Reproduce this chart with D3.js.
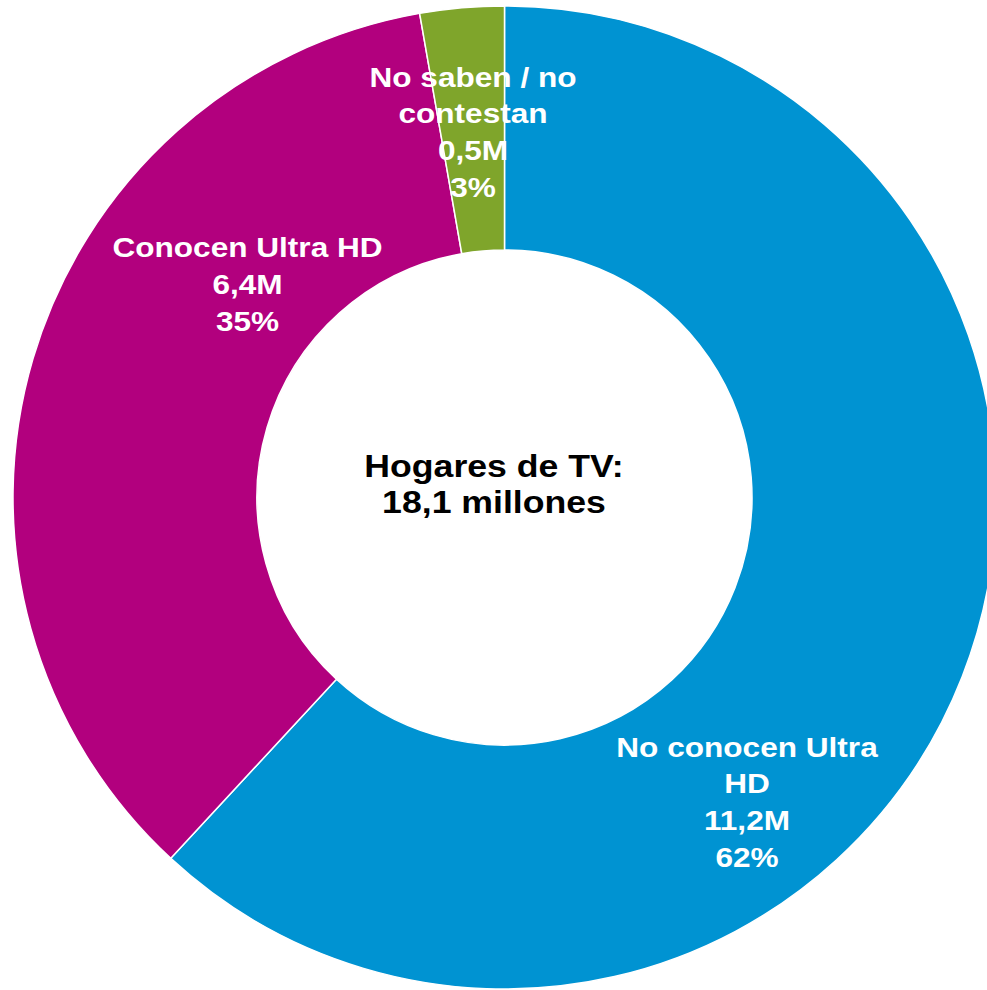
<!DOCTYPE html>
<html>
<head>
<meta charset="utf-8">
<script src="https://cdn.jsdelivr.net/npm/d3@7"></script>
<style>
  html, body { margin: 0; padding: 0; background: #ffffff; overflow: hidden; }
  svg { display: block; }
  text { font-family: "Liberation Sans", Arial, sans-serif; font-weight: bold; }
</style>
</head>
<body>
<svg id="chart" width="987" height="990"></svg>
<script>
// ---- data ----
const categories = ["No conocen Ultra HD", "Conocen Ultra HD", "No saben / no contestan"];
const values = [11.2, 6.4, 0.5];            // millions
const percents = ["62%", "35%", "3%"];
const valueLabels = ["11,2M", "6,4M", "0,5M"];
const labelLines = [["No conocen Ultra", "HD"], ["Conocen Ultra HD"], ["No saben / no", "contestan"]];
const colors = ["#0093d2", "#b2007e", "#7fa52b"];
const centerLines = ["Hogares de TV:", "18,1 millones"];

// ---- layout ----
const W = 987, H = 990;
const cx = 504.5, cy = 497.5;
const outerR = 491.5, innerR = 247.5;
// label block first-baseline positions relative to centre
const labelOffsets = [[242.5, 259], [-257, -240.5], [-31.5, -411]];
const lineH = 37;
const textScaleX = 1.17;

const svg = d3.select("#chart");
const g = svg.append("g").attr("transform", `translate(${cx},${cy})`);

const pie = d3.pie().sort(null).value(d => d);
const arc = d3.arc().innerRadius(innerR).outerRadius(outerR);
const arcs = pie(values);

g.selectAll("path.slice")
  .data(arcs)
  .join("path")
  .attr("class", "slice")
  .attr("d", arc)
  .attr("fill", (d, i) => colors[i])
  .attr("stroke", "#ffffff")
  .attr("stroke-width", 1.5)
  .attr("stroke-linejoin", "round");

// slice labels
arcs.forEach((d, i) => {
  const lines = labelLines[i].concat([valueLabels[i], percents[i]]);
  const [ox, oy] = labelOffsets[i];
  const t = g.append("g")
    .attr("transform", `translate(${ox},${oy}) scale(${textScaleX},1)`)
    .append("text")
    .attr("text-anchor", "middle")
    .attr("fill", "#ffffff")
    .attr("font-size", 27);
  lines.forEach((ln, k) => {
    t.append("tspan").attr("x", 0).attr("y", k * lineH).text(ln);
  });
});

// centre text
const ct = g.append("g")
  .attr("transform", `translate(-10.5,-21) scale(1.15,1)`)
  .append("text")
  .attr("text-anchor", "middle")
  .attr("fill", "#000000")
  .attr("font-size", 31);
centerLines.forEach((ln, k) => {
  ct.append("tspan").attr("x", 0).attr("y", k * 37).text(ln);
});
</script>
</body>
</html>
